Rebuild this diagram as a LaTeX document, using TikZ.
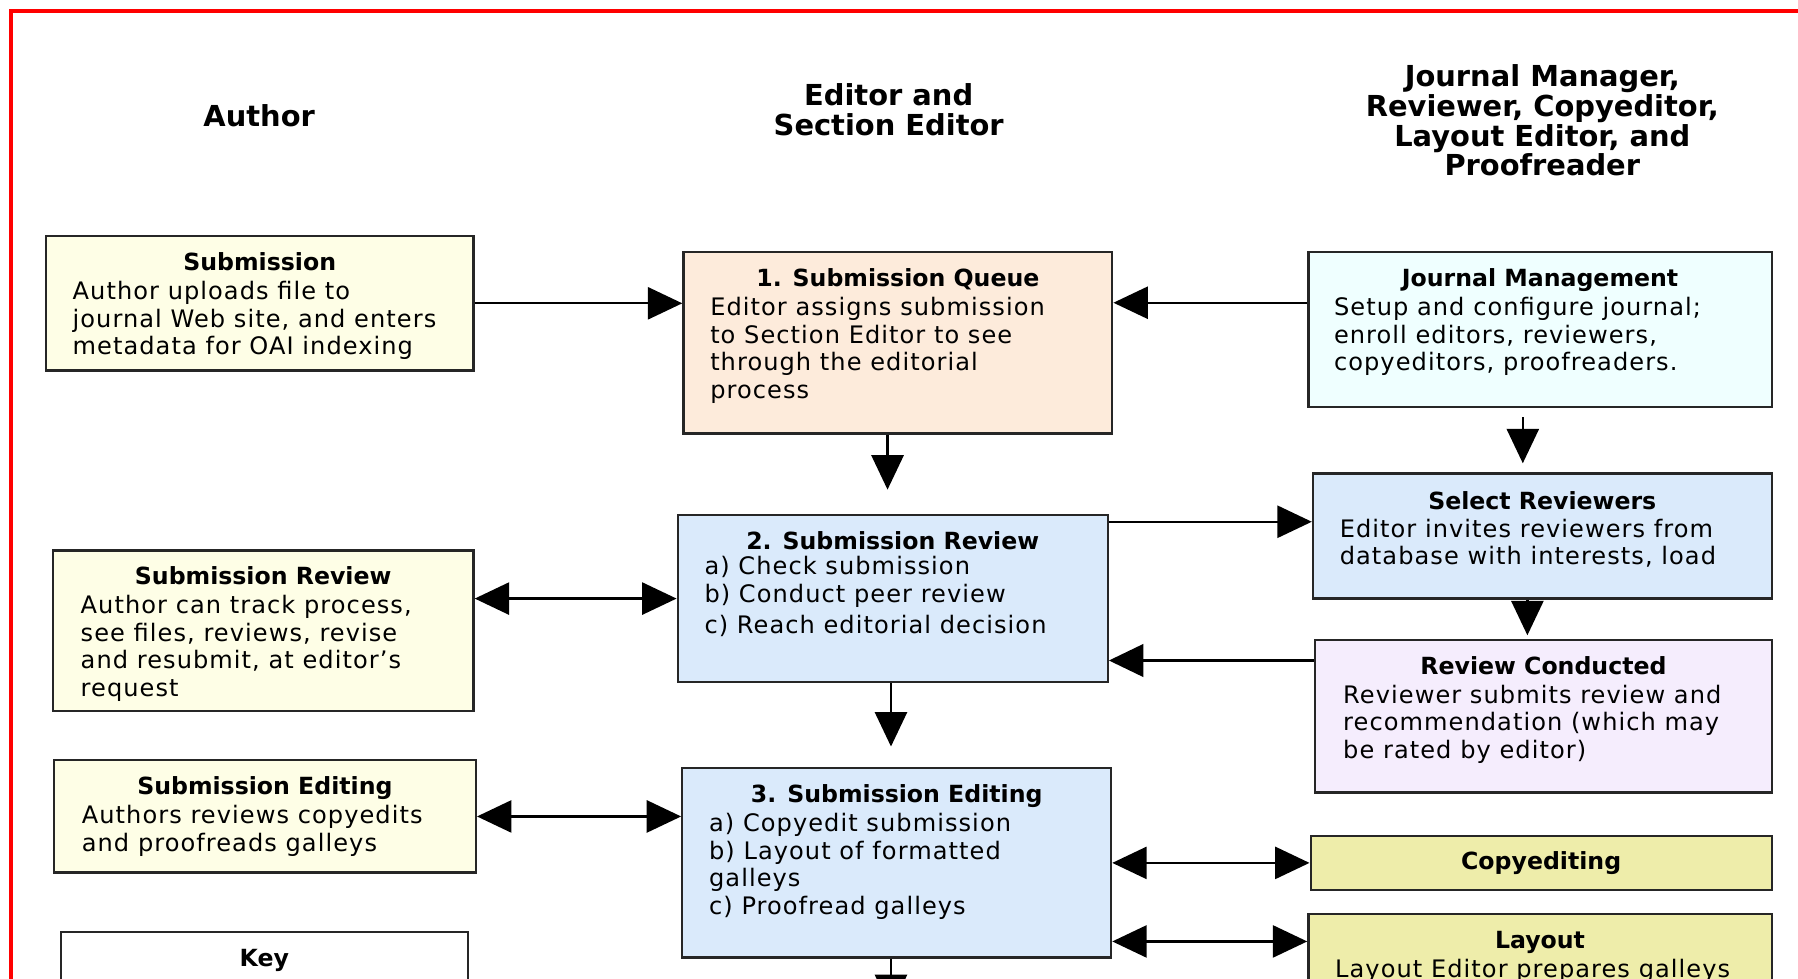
\documentclass[tikz,border=0pt]{standalone}
\usepackage{fontspec}
\setmainfont{DejaVu Sans}
\newfontfamily\bodyfont[LetterSpace=4.4]{DejaVu Sans}
\usetikzlibrary{arrows.meta,positioning}
\definecolor{authorfill}{HTML}{FEFEE6}
\definecolor{queuefill}{HTML}{FDEBDB}
\definecolor{managefill}{HTML}{EFFFFF}
\definecolor{editfill}{HTML}{DAEAFB}
\definecolor{reviewfill}{HTML}{F5EDFD}
\definecolor{stafffill}{HTML}{EEEDAA}
\tikzset{
	box/.style={
		rectangle,
		draw=black!85, line width=1pt,
		inner sep=0pt,
	},
	title/.style={font=\fontsize{10.3}{12}\selectfont\bfseries, inner sep=0pt},
	body/.style={font=\bodyfont\fontsize{10.5}{12}\selectfont, align=left, inner sep=0pt},
	role/.style={font=\fontsize{12.6}{13}\selectfont\bfseries, align=center, inner sep=0pt},
	arr/.style={line width=1pt, -{Triangle[length=15pt,width=14pt]}},
	twoway/.style={line width=1pt, {Triangle[length=15pt,width=14pt]}-{Triangle[length=15pt,width=14pt]}},
}
\begin{document}
\begin{tikzpicture}[x=0.5pt, y=-0.5pt, node distance=2mm]
\useasboundingbox (0,0) rectangle (1568,853);
\clip (0,0) rectangle (1568,853);
\draw[red, line width=1.5pt] (9.5,9.5) rectangle (1700,1000);

% column heads
\node	(authorH)	[role]	at (226,101)	{Author};
\node	(editorH)	[role]	at (775,96)	{Editor and\\Section Editor};
\node	(staffH)	[role]	at (1345,105)	{Journal Manager,\\Reviewer, Copyeditor,\\Layout Editor, and\\Proofreader};

% boxes
\node	(sub)	[box, fill=authorfill, minimum width=186.5pt, minimum height=58.5pt]	at (226.5,264.5)	{};
\node	(subT)	[title, below=7.5pt of sub.north]	{Submission};
\node	(subB)	[body, below right=20pt and 12pt of sub.north west]	{Author uploads file to\\journal Web site, and enters\\metadata for OAI indexing};

\node	(queue)	[box, fill=queuefill, minimum width=187pt, minimum height=79pt]	at (783,299)	{};
\node	(queueT)	[title, below=7.5pt of queue.north]	{1. Submission Queue};
\node	(queueB)	[body, below right=20pt and 12pt of queue.north west]	{Editor assigns submission\\to Section Editor to see\\through the editorial\\process};

\node	(jm)	[box, fill=managefill, minimum width=202pt, minimum height=67.5pt]	at (1343,287.5)	{};
\node	(jmT)	[title, below=7.5pt of jm.north]	{Journal Management};
\node	(jmB)	[body, below right=20pt and 11.5pt of jm.north west]	{Setup and configure journal;\\enroll editors, reviewers,\\copyeditors, proofreaders.};

\node	(selrev)	[box, fill=editfill, minimum width=200pt, minimum height=54.5pt]	at (1345,467.5)	{};
\node	(selrevT)	[title, below=8pt of selrev.north]	{Select Reviewers};
\node	(selrevB)	[body, below right=20pt and 12pt of selrev.north west]	{Editor invites reviewers from\\database with interests, load};

\node	(review)	[box, fill=editfill, minimum width=187.5pt, minimum height=73pt]	at (778.5,522)	{};
\node	(reviewT)	[title, below=7.5pt of review.north]	{2. Submission Review};
\node	(reviewB)	[body, below right=18.5pt and 12pt of review.north west]	{a) Check submission\\b) Conduct peer review\\[1.5pt]c) Reach editorial decision};

\node	(arev)	[box, fill=authorfill, minimum width=183.5pt, minimum height=70pt]	at (229.5,550)	{};
\node	(arevT)	[title, below=7.5pt of arev.north]	{Submission Review};
\node	(arevB)	[body, below right=20pt and 12.5pt of arev.north west]	{Author can track process,\\see files, reviews, revise\\and resubmit, at editor’s\\request};

\node	(rc)	[box, fill=reviewfill, minimum width=199pt, minimum height=66.5pt]	at (1346,624.5)	{};
\node	(rcT)	[title, below=7.5pt of rc.north]	{Review Conducted};
\node	(rcB)	[body, below right=20pt and 12.5pt of rc.north west]	{Reviewer submits review and\\recommendation (which may\\be rated by editor)};

\node	(aedit)	[box, fill=authorfill, minimum width=184pt, minimum height=49pt]	at (231,712)	{};
\node	(aeditT)	[title, below=7.5pt of aedit.north]	{Submission Editing};
\node	(aeditB)	[body, below right=20pt and 12.5pt of aedit.north west]	{Authors reviews copyedits\\and proofreads galleys};

\node	(edit)	[box, fill=editfill, minimum width=187pt, minimum height=82.5pt]	at (782,752.5)	{};
\node	(editT)	[title, below=7.5pt of edit.north]	{3. Submission Editing};
\node	(editB)	[body, below right=20pt and 12pt of edit.north west]	{a) Copyedit submission\\b) Layout of formatted\\galleys\\c) Proofread galleys};

\node	(copy)	[box, fill=stafffill, minimum width=201pt, minimum height=23.5pt]	at (1344,752.5)	{};
\node	(copyT)	[title]	at (copy)	{Copyediting};

\node	(layout)	[box, fill=stafffill, minimum width=202pt, minimum height=81.5pt]	at (1343,878.5)	{};
\node	(layoutT)	[title, below=8pt of layout.north]	{Layout};
\node	(layoutB)	[body, below right=20pt and 12pt of layout.north west]	{Layout Editor prepares galleys};

\node	(key)	[box, fill=white, minimum width=177.5pt, minimum height=73.5pt]	at (230.5,886.5)	{};
\node	(keyT)	[title, below=7.5pt of key.north]	{Key};

% connectors
\path[arr] (sub.east) edge (sub.east -| queue.west);
\coordinate (jmA) at ([yshift=-22.5pt]jm.north west);
\path[arr] (jmA) edge (jmA -| queue.east);
\coordinate (qA) at ([xshift=-4.5pt]queue.south);
\path[arr, shorten >=10.5pt] (qA) edge (qA |- review.north);
\coordinate (jmC) at ([xshift=-7.5pt]jm.south);
\path[arr, shorten <=4pt, shorten >=4pt] (jmC) edge (jmC |- selrev.north);
\coordinate (rA) at ([yshift=-3.5pt]review.north east);
\path[arr] (rA) edge (rA -| selrev.west);
\coordinate (srA) at ([xshift=-6.5pt]selrev.south);
\path[arr, shorten >=1.5pt] (srA) edge (srA |- rc.north);
\coordinate (rcA) at ([yshift=-9.5pt]rc.north west);
\path[arr, line width=1.6pt] (rcA) edge (rcA -| review.east);
\path[twoway] (review.west -| arev.east) edge (review.west);
\coordinate (rvA) at ([xshift=-0.75pt]review.south);
\path[arr, shorten >=9pt] (rvA) edge (rvA |- edit.north);
\path[twoway] (aedit.east) edge (aedit.east -| edit.west);
\path[twoway] (copy.west -| edit.east) edge (copy.west);
\coordinate (lyA) at ([yshift=-12.5pt]layout.north west);
\path[twoway] (lyA -| edit.east) edge (lyA);
\coordinate (exit) at (777,880);
\path[arr] (edit.south -| exit) edge (exit);

\end{tikzpicture}
\end{document}
